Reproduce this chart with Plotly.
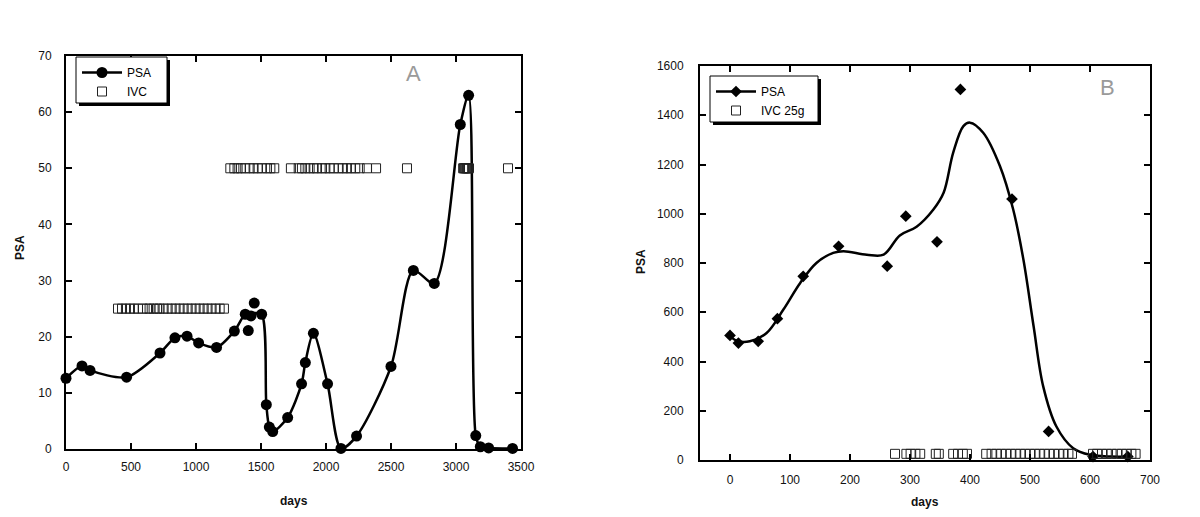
import plotly.graph_objects as go

# ---------------- Panel A data ----------------
a_days = [0, 123, 185, 466, 723, 838, 931, 1020, 1158, 1295, 1379, 1402, 1423, 1448, 1505,
          1541, 1564, 1590, 1705, 1812, 1841, 1903, 2012, 2115, 2235, 2500, 2672, 2833,
          3033, 3097, 3152, 3187, 3251, 3435]
a_psa = [12.6, 14.8, 14.0, 12.8, 17.1, 19.8, 20.1, 18.9, 18.1, 21.0, 24.0, 21.1, 23.7, 26.0, 24.0,
         7.9, 3.9, 3.1, 5.6, 11.6, 15.4, 20.6, 11.6, 0.1, 2.3, 14.7, 31.8, 29.5,
         57.8, 63.0, 2.4, 0.4, 0.2, 0.1]

# fitted curve drawn through the PSA values (panel A)
a_curve_days = [0, 123, 185, 466, 723, 838, 931, 1020, 1158, 1295, 1379, 1440, 1505,
                1541, 1564, 1590, 1705, 1812, 1841, 1903, 2012, 2115, 2235, 2500, 2672, 2833,
                3033, 3097, 3152, 3187, 3251, 3435]
a_curve_psa = [12.6, 14.8, 14.0, 12.8, 17.1, 19.8, 20.1, 18.9, 18.1, 21.0, 24.0, 24.2, 24.0,
               7.9, 3.9, 3.1, 5.6, 11.6, 15.4, 20.6, 11.6, 0.1, 2.3, 14.7, 31.8, 29.5,
               57.8, 63.0, 2.4, 0.4, 0.2, 0.1]

# IVC treatment days (panel A): two dose levels drawn at 25 and 50
a_ivc25_days = [400, 431, 461, 492, 523, 554, 590, 623, 643, 674, 700, 720, 751, 782, 813, 843,
                874, 905, 936, 966, 997, 1028, 1059, 1089, 1120, 1151, 1182, 1215]
a_ivc25_level = [25] * len(a_ivc25_days)
a_ivc50_days = [1264, 1295, 1320, 1346, 1379, 1413, 1443, 1474, 1507, 1546, 1572, 1602,
                1730, 1790, 1815, 1841, 1874, 1905, 1931, 1969, 1995, 2028, 2059, 2097, 2130,
                2161, 2192, 2225, 2259, 2315, 2385, 2623,
                3055, 3062, 3070, 3078, 3085, 3092, 3100, 3400]
a_ivc50_level = [50] * len(a_ivc50_days)

# ---------------- Panel B data ----------------
b_days = [0, 14, 47, 79, 122, 181, 262, 293, 345, 384, 470, 531, 605, 663]
b_psa = [506, 475, 482, 574, 746, 868, 787, 990, 886, 1505, 1060, 116, 14, 14]

b_curve_days = [0, 14, 33, 61, 89, 117, 144, 172, 189, 228, 256, 283, 311, 339, 356, 372,
                389, 400, 422, 450, 472, 489, 506, 522, 544, 572, 600, 635, 665]
b_curve_psa = [502, 482, 482, 516, 611, 719, 800, 841, 848, 834, 834, 912, 947, 1017, 1085, 1248,
               1356, 1370, 1329, 1193, 1017, 814, 543, 299, 136, 48, 21, 14, 14]

b_ivc_days = [275, 294, 301, 309, 317, 343, 348, 372, 380, 388, 395,
              427, 436, 444, 452, 460, 468, 476, 484, 492, 500, 508, 516, 524, 532, 540, 548,
              556, 564, 570, 605, 612, 620, 628, 636, 645, 653, 661, 669, 676]
b_ivc_level = [25] * len(b_ivc_days)

# ---------------- figure ----------------
PAGE_MARGIN = 8          # default body margin of the html page
W, H = 1200 - PAGE_MARGIN, 517 - PAGE_MARGIN
FONT = "Arial, Liberation Sans, sans-serif"


def px_x(p):
    return (p - PAGE_MARGIN) / W


def px_y(p):
    return 1 - (p - PAGE_MARGIN) / H


fig = go.Figure()

# Panel A
fig.add_trace(go.Scatter(x=a_curve_days, y=a_curve_psa, mode="lines",
                         line=dict(color="black", width=2.5, shape="spline", smoothing=0.8),
                         showlegend=False, hoverinfo="skip", xaxis="x", yaxis="y"))
fig.add_trace(go.Scatter(x=a_days, y=a_psa, mode="markers", cliponaxis=False,
                         marker=dict(symbol="circle", size=11, color="black"),
                         showlegend=False, xaxis="x", yaxis="y"))
fig.add_trace(go.Scatter(x=a_ivc25_days + a_ivc50_days, y=a_ivc25_level + a_ivc50_level,
                         mode="markers", cliponaxis=False,
                         marker=dict(symbol="square-open", size=9, color="#222",
                                     line=dict(width=1)),
                         showlegend=False, xaxis="x", yaxis="y"))
fig.add_trace(go.Scatter(x=[None], y=[None], mode="lines+markers", name="PSA",
                         line=dict(color="black", width=2.5),
                         marker=dict(symbol="circle", size=11, color="black"),
                         legend="legend", xaxis="x", yaxis="y"))
fig.add_trace(go.Scatter(x=[None], y=[None], mode="markers", name="IVC",
                         marker=dict(symbol="square-open", size=9, color="#222",
                                     line=dict(width=1)),
                         legend="legend", xaxis="x", yaxis="y"))

# Panel B
fig.add_trace(go.Scatter(x=b_curve_days, y=b_curve_psa, mode="lines",
                         line=dict(color="black", width=2.5, shape="spline", smoothing=1.0),
                         showlegend=False, hoverinfo="skip", xaxis="x2", yaxis="y2"))
fig.add_trace(go.Scatter(x=b_days, y=b_psa, mode="markers", cliponaxis=False,
                         marker=dict(symbol="diamond", size=9, color="black"),
                         showlegend=False, xaxis="x2", yaxis="y2"))
fig.add_trace(go.Scatter(x=b_ivc_days, y=b_ivc_level, mode="markers", cliponaxis=False,
                         marker=dict(symbol="square-open", size=9, color="#222",
                                     line=dict(width=1)),
                         showlegend=False, xaxis="x2", yaxis="y2"))
fig.add_trace(go.Scatter(x=[None], y=[None], mode="lines+markers", name="PSA",
                         line=dict(color="black", width=2.5),
                         marker=dict(symbol="diamond", size=9, color="black"),
                         legend="legend2", xaxis="x2", yaxis="y2"))
fig.add_trace(go.Scatter(x=[None], y=[None], mode="markers", name="IVC 25g",
                         marker=dict(symbol="square-open", size=9, color="#222",
                                     line=dict(width=1)),
                         legend="legend2", xaxis="x2", yaxis="y2"))

axis_common = dict(showline=True, linewidth=2, linecolor="black", mirror="ticks",
                   ticks="inside", ticklen=6, tickwidth=1.5, tickcolor="black",
                   showgrid=False, zeroline=False, automargin=False,
                   tickfont=dict(family=FONT, size=12, color="#111"))

shapes = []
# legend boxes with drop shadow
for (x0, y0, x1, y1) in [(76, 57, 167, 103), (710, 76, 818, 122)]:
    shapes.append(dict(type="rect", xref="paper", yref="paper",
                       x0=px_x(x0 + 3), x1=px_x(x1 + 3), y0=px_y(y1 + 3), y1=px_y(y0 + 3),
                       fillcolor="black", line=dict(width=0), layer="above"))
    shapes.append(dict(type="rect", xref="paper", yref="paper",
                       x0=px_x(x0), x1=px_x(x1), y0=px_y(y1), y1=px_y(y0),
                       fillcolor="white", line=dict(color="black", width=1), layer="above"))


def note(text, x, y, size=12, color="#111", angle=0):
    return dict(text=text, x=px_x(x), y=px_y(y), xref="paper", yref="paper",
                showarrow=False, textangle=angle, xanchor="center", yanchor="middle",
                font=dict(family=FONT, size=size, color=color))


annotations = [
    note("A", 413, 73, size=22, color="#9a9a9a"),
    note("B", 1107, 87, size=22, color="#9a9a9a"),
    note("<b>PSA</b>", 20, 248, angle=-90),
    note("<b>PSA</b>", 641, 262, angle=-90),
    note("<b>days</b>", 294, 501),
    note("<b>days</b>", 925, 502),
]

legend_common = dict(bgcolor="rgba(0,0,0,0)", borderwidth=0, xanchor="left", yanchor="top",
                     font=dict(family=FONT, size=12, color="black"), itemwidth=40,
                     tracegroupgap=0, xref="paper", yref="paper")

fig.update_layout(
    width=W, height=H,
    margin=dict(l=0, r=0, t=0, b=0, autoexpand=False),
    paper_bgcolor="white", plot_bgcolor="white",
    font=dict(family=FONT),
    xaxis=dict(domain=[px_x(66), px_x(521)], range=[0, 3500], tickvals=list(range(0, 3501, 500)),
               anchor="y", ticklabelstandoff=6, **axis_common),
    yaxis=dict(domain=[px_y(449), px_y(56)], range=[0, 70], tickvals=list(range(0, 71, 10)),
               anchor="x", ticklabelstandoff=10, **axis_common),
    xaxis2=dict(domain=[px_x(700), px_x(1150)], range=[-50, 700],
                tickvals=list(range(0, 701, 100)), anchor="y2", ticklabelstandoff=8,
                **axis_common),
    yaxis2=dict(domain=[px_y(460), px_y(66)], range=[0, 1600],
                tickvals=list(range(0, 1601, 200)), anchor="x2", ticklabelstandoff=12,
                **axis_common),
    legend=dict(x=px_x(77), y=px_y(58), **legend_common),
    legend2=dict(x=px_x(711), y=px_y(77), **legend_common),
    shapes=shapes,
    annotations=annotations,
    showlegend=True,
)

fig.write_html("out.html")
